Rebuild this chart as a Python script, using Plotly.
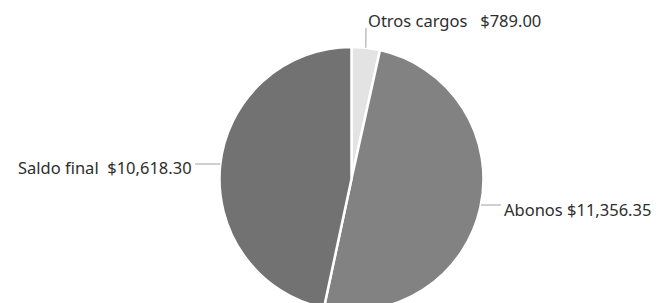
import math
import plotly.graph_objects as go

labels = ["Otros cargos", "Abonos", "Saldo final"]
values = [789.00, 11356.35, 10618.30]
colors = ["#e3e3e3", "#828282", "#727272"]
gaps = {"Otros cargos": "&nbsp;&nbsp; ", "Abonos": " ", "Saldo final": "&nbsp; "}

W, H = 662, 303
OFF = 8  # default page margin around the plot div
dom_x = [0.3187, 0.719]
dom_y = [0.0, 0.8713]

fig = go.Figure(go.Pie(
    labels=labels, values=values, sort=False, direction="clockwise", rotation=0,
    marker=dict(colors=colors, line=dict(color="#ffffff", width=2.5)),
    textinfo="none", hoverinfo="label+value", showlegend=False,
    domain=dict(x=dom_x, y=dom_y),
))

# pie geometry in figure pixels (derived from domain)
cx = (dom_x[0] + dom_x[1]) / 2 * W
cy = (1 - (dom_y[0] + dom_y[1]) / 2) * H
r = min((dom_x[1] - dom_x[0]) * W, (dom_y[1] - dom_y[0]) * H) / 2

def px(x, y):
    """screen pixel -> paper coords"""
    return (x - OFF) / W, 1 - (y - OFF) / H

# label layout (screen pixels): leader end point and text anchor
label_cfg = {
    "Otros cargos": dict(end=(366, 28), anchor=("left", 366, 20)),
    "Abonos": dict(end=(501, 205), anchor=("left", 502, 209)),
    "Saldo final": dict(end=(195, 164), anchor=("right", 194, 167)),
}

total = sum(values)
cum = 0
shapes, annotations = [], []
for lab, v in zip(labels, values):
    mid = (cum + v / 2) / total * 360
    cum += v
    cfg = label_cfg[lab]
    ex, ey = cfg["end"]
    if lab == "Otros cargos":
        a = math.radians(mid)
        sx, sy = cx + r * math.sin(a) + OFF, cy - r * math.cos(a) + OFF
    else:
        dy = (ey - OFF) - cy
        dx = math.sqrt(max(r * r - dy * dy, 0))
        sx = (cx + dx if ex > cx + OFF else cx - dx) + OFF
        sy = ey
    x0, y0 = px(sx, sy)
    x1, y1 = px(ex, ey)
    shapes.append(dict(type="line", xref="paper", yref="paper",
                       x0=x0, y0=y0, x1=x1, y1=y1,
                       line=dict(color="#a0a0a0", width=1)))
    side, tx, ty = cfg["anchor"]
    ax, ay = px(tx, ty)
    annotations.append(dict(
        xref="paper", yref="paper", x=ax, y=ay,
        xanchor=side, yanchor="middle", showarrow=False,
        text=f"{lab}{gaps[lab]}${v:,.2f}",
        font=dict(family="Noto Sans", size=16.5, color="#2e2e2e"),
    ))

fig.update_layout(
    width=W, height=H, margin=dict(l=0, r=0, t=0, b=0),
    paper_bgcolor="#ffffff", plot_bgcolor="#ffffff",
    shapes=shapes, annotations=annotations,
)
fig.write_html("out.html")
